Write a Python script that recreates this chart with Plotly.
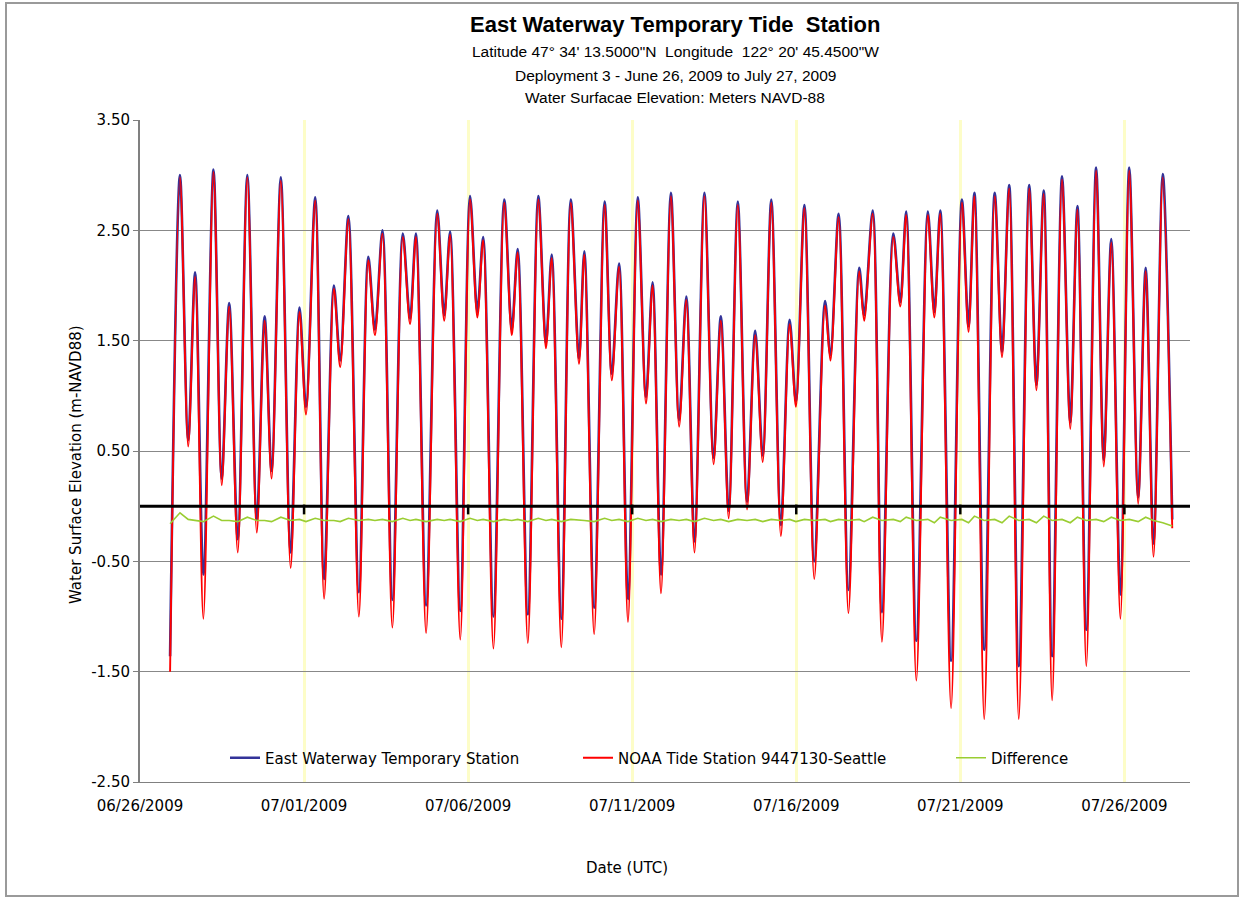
import plotly.graph_objects as go

# ---------------- data ----------------
times = [
    "2009-06-26 22:00", "2009-06-27 05:15", "2009-06-27 11:15", "2009-06-27 16:20", "2009-06-27 22:20",
    "2009-06-28 05:45", "2009-06-28 11:45", "2009-06-28 17:15", "2009-06-28 23:30", "2009-06-29 06:30",
    "2009-06-29 13:25", "2009-06-29 19:10", "2009-06-30 00:15", "2009-06-30 07:00", "2009-06-30 14:10",
    "2009-06-30 20:40", "2009-07-01 01:25", "2009-07-01 08:10", "2009-07-01 14:40", "2009-07-01 21:50",
    "2009-07-02 02:25", "2009-07-02 08:25", "2009-07-02 16:05", "2009-07-02 23:00", "2009-07-03 03:50",
    "2009-07-03 09:20", "2009-07-03 16:35", "2009-07-04 00:15", "2009-07-04 05:30", "2009-07-04 09:50",
    "2009-07-04 17:15", "2009-07-05 01:25", "2009-07-05 06:30", "2009-07-05 10:50", "2009-07-05 18:15",
    "2009-07-06 01:25", "2009-07-06 06:45", "2009-07-06 11:00", "2009-07-06 18:30", "2009-07-07 02:25",
    "2009-07-07 07:55", "2009-07-07 12:15", "2009-07-07 19:40", "2009-07-08 03:20", "2009-07-08 08:55",
    "2009-07-08 13:10", "2009-07-08 20:10", "2009-07-09 03:05", "2009-07-09 09:05", "2009-07-09 13:00",
    "2009-07-09 20:10", "2009-07-10 03:50", "2009-07-10 09:05", "2009-07-10 14:25", "2009-07-10 20:55",
    "2009-07-11 04:05", "2009-07-11 10:05", "2009-07-11 14:55", "2009-07-11 21:05", "2009-07-12 04:20",
    "2009-07-12 10:20", "2009-07-12 15:35", "2009-07-12 21:35", "2009-07-13 04:50", "2009-07-13 11:30",
    "2009-07-13 16:50", "2009-07-13 22:35", "2009-07-14 05:15", "2009-07-14 12:00", "2009-07-14 18:00",
    "2009-07-14 23:30", "2009-07-15 05:45", "2009-07-15 12:45", "2009-07-15 19:10", "2009-07-15 23:45",
    "2009-07-16 06:00", "2009-07-16 13:10", "2009-07-16 21:05", "2009-07-17 01:00", "2009-07-17 07:00",
    "2009-07-17 14:10", "2009-07-17 22:05", "2009-07-18 01:40", "2009-07-18 07:55", "2009-07-18 14:40",
    "2009-07-18 23:00", "2009-07-19 04:05", "2009-07-19 08:25", "2009-07-19 15:50", "2009-07-20 00:15",
    "2009-07-20 05:00", "2009-07-20 09:20", "2009-07-20 17:15", "2009-07-21 01:10", "2009-07-21 06:00",
    "2009-07-21 10:20", "2009-07-21 17:30", "2009-07-22 01:10", "2009-07-22 06:30", "2009-07-22 11:45",
    "2009-07-22 18:45", "2009-07-23 02:25", "2009-07-23 07:40", "2009-07-23 13:00", "2009-07-23 19:10",
    "2009-07-24 02:25", "2009-07-24 08:25", "2009-07-24 13:40", "2009-07-24 20:10", "2009-07-25 03:20",
    "2009-07-25 08:55", "2009-07-25 14:25", "2009-07-25 21:05", "2009-07-26 03:35", "2009-07-26 10:05",
    "2009-07-26 15:35", "2009-07-26 21:20", "2009-07-27 04:05", "2009-07-27 11:00",
]

noaa_seattle = [
    -1.50, 2.98, 0.54, 2.08, -1.02, 3.03, 0.19, 1.81, -0.42, 2.98,
    -0.24, 1.68, 0.25, 2.95, -0.56, 1.76, 0.83, 2.77, -0.84, 1.97,
    1.26, 2.60, -1.00, 2.23, 1.55, 2.47, -1.10, 2.44, 1.65, 2.44,
    -1.15, 2.65, 1.68, 2.46, -1.21, 2.78, 1.71, 2.41, -1.29, 2.75,
    1.55, 2.30, -1.24, 2.78, 1.43, 2.25, -1.28, 2.75, 1.29, 2.28,
    -1.16, 2.73, 1.14, 2.17, -1.05, 2.77, 0.93, 2.00, -0.79, 2.81,
    0.72, 1.87, -0.42, 2.81, 0.38, 1.68, -0.11, 2.73, -0.03, 1.55,
    0.40, 2.75, -0.27, 1.65, 0.90, 2.70, -0.66, 1.82, 1.32, 2.62,
    -0.97, 2.13, 1.68, 2.65, -1.23, 2.44, 1.81, 2.64, -1.58, 2.64,
    1.71, 2.65, -1.83, 2.75, 1.58, 2.81, -1.93, 2.81, 1.35, 2.88,
    -1.93, 2.88, 1.05, 2.83, -1.76, 2.96, 0.70, 2.69, -1.45, 3.04,
    0.36, 2.39, -1.02, 3.04, 0.02, 2.13, -0.46, 2.98, -0.20,
]

east_waterway = [
    -1.36, 3.00, 0.60, 2.12, -0.62, 3.05, 0.25, 1.84, -0.30, 3.00,
    -0.12, 1.72, 0.32, 2.98, -0.42, 1.80, 0.90, 2.80, -0.66, 2.00,
    1.32, 2.63, -0.78, 2.26, 1.60, 2.50, -0.85, 2.47, 1.70, 2.47,
    -0.90, 2.68, 1.73, 2.49, -0.95, 2.81, 1.76, 2.44, -1.00, 2.78,
    1.60, 2.33, -0.98, 2.81, 1.48, 2.28, -1.02, 2.78, 1.34, 2.31,
    -0.92, 2.76, 1.20, 2.20, -0.84, 2.80, 0.99, 2.03, -0.62, 2.84,
    0.78, 1.90, -0.32, 2.84, 0.44, 1.72, -0.04, 2.76, 0.04, 1.59,
    0.46, 2.78, -0.17, 1.69, 0.95, 2.73, -0.50, 1.86, 1.37, 2.65,
    -0.76, 2.16, 1.73, 2.68, -0.96, 2.47, 1.85, 2.67, -1.22, 2.67,
    1.76, 2.68, -1.40, 2.78, 1.63, 2.84, -1.30, 2.84, 1.40, 2.91,
    -1.45, 2.91, 1.10, 2.86, -1.36, 2.99, 0.76, 2.72, -1.12, 3.07,
    0.42, 2.42, -0.80, 3.07, 0.08, 2.16, -0.34, 3.01, -0.12,
]

difference = [
    -0.16, -0.06, -0.12, -0.13, -0.14, -0.09, -0.13, -0.13, -0.14, -0.10,
    -0.13, -0.13, -0.14, -0.10, -0.13, -0.12, -0.14, -0.11, -0.13, -0.13,
    -0.14, -0.11, -0.13, -0.12, -0.13, -0.12, -0.14, -0.11, -0.13, -0.12,
    -0.14, -0.12, -0.13, -0.12, -0.14, -0.11, -0.13, -0.12, -0.14, -0.12,
    -0.13, -0.12, -0.14, -0.11, -0.13, -0.12, -0.14, -0.12, -0.13, -0.13,
    -0.14, -0.11, -0.13, -0.12, -0.14, -0.11, -0.13, -0.12, -0.14, -0.12,
    -0.13, -0.12, -0.14, -0.11, -0.13, -0.12, -0.14, -0.12, -0.13, -0.12,
    -0.14, -0.12, -0.13, -0.12, -0.14, -0.12, -0.13, -0.12, -0.14, -0.12,
    -0.13, -0.12, -0.14, -0.10, -0.13, -0.12, -0.14, -0.10, -0.13, -0.12,
    -0.15, -0.10, -0.13, -0.12, -0.15, -0.09, -0.13, -0.12, -0.15, -0.09,
    -0.13, -0.12, -0.15, -0.09, -0.13, -0.12, -0.15, -0.10, -0.13, -0.12,
    -0.14, -0.10, -0.13, -0.12, -0.14, -0.10, -0.13, -0.15, -0.18,
]

tick_dates = ["2009-06-26", "2009-07-01", "2009-07-06", "2009-07-11",
              "2009-07-16", "2009-07-21", "2009-07-26"]
tick_labels = ["06/26/2009", "07/01/2009", "07/06/2009", "07/11/2009",
               "07/16/2009", "07/21/2009", "07/26/2009"]
x_range = ["2009-06-26 00:00", "2009-07-28 00:00"]
y_ticks = [-2.5, -1.5, -0.5, 0.5, 1.5, 2.5, 3.5]
y_tick_labels = ["-2.50", "-1.50", "-0.50", "0.50", "1.50", "2.50", "3.50"]
zero_level = [0, 0]
nub_level = -0.03

title_lines = [
    "East Waterway Temporary Tide  Station",
    "Latitude 47° 34' 13.5000\"N  Longitude  122° 20' 45.4500\"W",
    "Deployment 3 - June 26, 2009 to July 27, 2009",
    "Water Surfacae Elevation: Meters NAVD-88",
]

# ---------------- figure ----------------
TICK_FONT = dict(family="DejaVu Sans", size=15, color="#000000")
ARIAL = "Liberation Sans, Arial, sans-serif"

fig = go.Figure()

fig.add_trace(go.Scatter(
    x=times, y=east_waterway, mode="lines", name="East Waterway Temporary Station",
    line=dict(color="#333399", width=2.6, shape="spline", smoothing=0.9),
    legend="legend"))
fig.add_trace(go.Scatter(
    x=times, y=noaa_seattle, mode="lines", name="NOAA Tide Station 9447130-Seattle",
    line=dict(color="#ff0000", width=1.9, shape="spline", smoothing=0.9),
    legend="legend2"))
fig.add_trace(go.Scatter(
    x=x_range, y=zero_level, mode="lines", showlegend=False, hoverinfo="skip",
    line=dict(color="#000000", width=3)))
fig.add_trace(go.Scatter(
    x=tick_dates[1:], y=[nub_level] * (len(tick_dates) - 1), mode="markers", showlegend=False,
    hoverinfo="skip",
    marker=dict(symbol="line-ns-open", size=7, color="#000000",
                line=dict(color="#000000", width=2.5))))
fig.add_trace(go.Scatter(
    x=times, y=difference, mode="lines", name="Difference",
    line=dict(color="#9acd32", width=1.6),
    legend="legend3"))

def px_x(px):
    return (px - 140) / 1050.0

def px_y(py):
    return (782 - py) / 662.0

legend_common = dict(orientation="h", yanchor="middle", xanchor="left",
                     bgcolor="rgba(0,0,0,0)", font=dict(family="DejaVu Sans", size=15, color="#000000"))

annotations = []
for i, (txt, py) in enumerate(zip(title_lines, [25, 52, 75, 98])):
    annotations.append(dict(
        text=("<b>%s</b>" % txt) if i == 0 else txt,
        x=px_x(675), y=px_y(py), xref="paper", yref="paper",
        xanchor="center", yanchor="middle", showarrow=False,
        font=dict(family=ARIAL, size=22 if i == 0 else 15.5, color="#000000")))
annotations.append(dict(
    text="Date (UTC)", x=px_x(627), y=px_y(868), xref="paper", yref="paper",
    xanchor="center", yanchor="middle", showarrow=False, font=TICK_FONT))
annotations.append(dict(
    text="Water Surface Elevation (m-NAVD88)", x=px_x(76), y=px_y(465),
    xref="paper", yref="paper", xanchor="center", yanchor="middle",
    textangle=-90, showarrow=False, font=TICK_FONT))

fig.update_layout(
    width=1242, height=900,
    margin=dict(l=140, r=52, t=120, b=118),
    paper_bgcolor="#ffffff", plot_bgcolor="#ffffff",
    font=dict(family="DejaVu Sans", size=15, color="#000000"),
    legend=dict(x=px_x(225), y=px_y(758), **legend_common),
    legend2=dict(x=px_x(578), y=px_y(758), **legend_common),
    legend3=dict(x=px_x(951), y=px_y(758), **legend_common),
    annotations=annotations,
    shapes=[dict(type="rect", xref="paper", yref="paper",
                 x0=px_x(6), x1=px_x(1238), y0=px_y(896), y1=px_y(3),
                 line=dict(color="#9a9a9a", width=2), fillcolor="rgba(0,0,0,0)",
                 layer="below")],
    hovermode=False,
)

fig.update_xaxes(
    type="date", range=x_range,
    tickmode="array", tickvals=tick_dates, ticktext=tick_labels,
    showgrid=True, gridcolor="#fdfdc8", gridwidth=3,
    showline=True, linecolor="#808080", linewidth=1,
    ticks="", tickfont=TICK_FONT, ticklabelstandoff=10,
    zeroline=False, fixedrange=True)
fig.update_yaxes(
    range=[-2.5, 3.5], tickmode="array", tickvals=y_ticks, ticktext=y_tick_labels,
    showgrid=True, gridcolor="#888888", gridwidth=1,
    showline=True, linecolor="#808080", linewidth=2,
    ticks="outside", ticklen=5, tickcolor="#808080", tickwidth=1,
    tickfont=TICK_FONT, zeroline=False, fixedrange=True)

fig.write_html("out.html", config={"displayModeBar": False},
               post_script="document.body.style.margin='0px';document.body.style.padding='0px';")
